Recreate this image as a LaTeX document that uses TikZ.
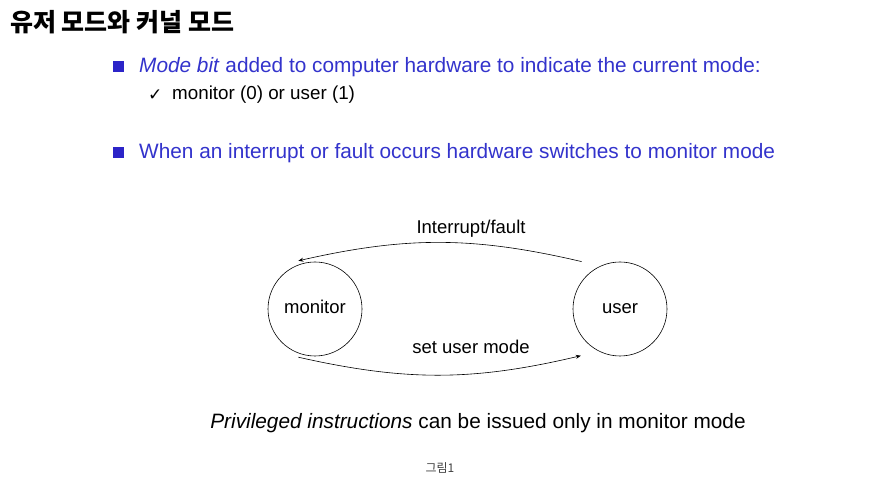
\documentclass[tikz,border=0pt]{standalone}
\usepackage{fontspec}
\setmainfont{Liberation Sans}
\newfontfamily\kofont{Noto Sans CJK KR}
\newfontfamily\symfont{DejaVu Sans}
\usetikzlibrary{arrows.meta}
\definecolor{slideblue}{RGB}{51,51,204}
\definecolor{squareblue}{RGB}{44,36,200}
\tikzset{
    state/.style={draw,circle,minimum size=94pt,inner sep=0pt,line width=.6pt,text height=13pt,text depth=3pt,font=\fontsize{18.5}{20}\selectfont},
    bulletsq/.style={fill=squareblue,minimum size=11pt,inner sep=0pt},
    bullettext/.style={anchor=west,inner sep=0pt,text=slideblue,font=\fontsize{20.8}{24}\selectfont},
    edgelabel/.style={font=\fontsize{18.5}{20}\selectfont},
    trans/.style={-{Stealth[length=5pt,width=4pt]},line width=.6pt}
}
\begin{document}
\begin{tikzpicture}[x=1pt,y=1pt]
                \useasboundingbox[fill=white] (0,0) rectangle (889,500);
                \node[anchor=west,inner sep=0pt] (title) at (10,478) {\kofont\bfseries\fontsize{25}{28}\selectfont 유저 모드와 커널 모드};

                \node[bulletsq] (sq1) at (118,433) {};
                \node[bullettext] (modebit) at (139,433) {\textit{Mode bit} added to computer hardware to indicate the current mode:};
                \node[anchor=west,inner sep=0pt,font=\symfont\fontsize{17}{18}\selectfont] (tick) at (148,405) {✓};
                \node[anchor=west,inner sep=0pt,font=\fontsize{18.8}{20}\selectfont] (values) at (172,405) {monitor (0) or user (1)};
                \node[bulletsq] (sq2) at (118,347) {};
                \node[bullettext] (switch) at (139,347) {When an interrupt or fault occurs hardware switches to monitor mode};

                \node[state,outer sep=4pt] (monitor) at (315,191) {monitor};
                \node[state,outer sep=14pt] (user) at (620,191) {user};
                \node[edgelabel] (intr) at (471,271) {Interrupt/fault};
                \node[edgelabel] (setuser) at (471,153) {set user mode};

                \draw[trans] (user.129) to[bend right=13] (monitor.109);
                \draw[trans] (monitor.251) to[bend right=13] (user.230);

                \node[font=\fontsize{20.8}{24}\selectfont] (priv) at (478,77) {\textit{Privileged instructions} can be issued only in monitor mode};
                \node[text=black!75,font=\kofont\fontsize{12}{14}\selectfont] (caption) at (440,32) {그림1};
            \end{tikzpicture}
\end{document}
